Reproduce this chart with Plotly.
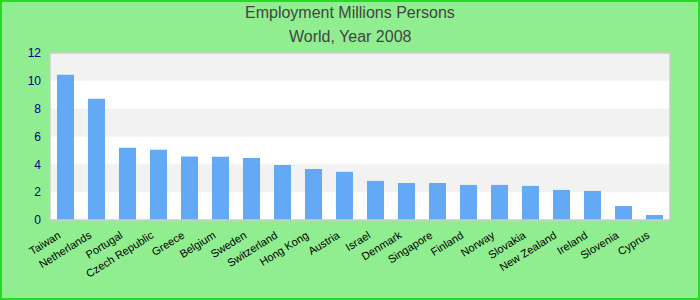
import plotly.graph_objects as go

countries = ["Taiwan", "Netherlands", "Portugal", "Czech Republic", "Greece", "Belgium",
             "Sweden", "Switzerland", "Hong Kong", "Austria", "Israel", "Denmark",
             "Singapore", "Finland", "Norway", "Slovakia", "New Zealand", "Ireland",
             "Slovenia", "Cyprus"]
employment = [10.44, 8.71, 5.2, 5.04, 4.56, 4.55, 4.46, 3.96, 3.67, 3.46, 2.81, 2.66,
              2.66, 2.52, 2.52, 2.45, 2.16, 2.09, 1.0, 0.36]
y_ticks = [0, 2, 4, 6, 8, 10, 12]
band_edges = [(10, 12), (6, 8), (2, 4)]

W, H = 700, 300
ML, MR, MT, MB = 50, 30, 53, 80
pw, ph = W - ML - MR, H - MT - MB

fig = go.Figure()
fig.add_trace(go.Bar(x=countries, y=employment, marker=dict(color="#63a9f5", line=dict(width=0)),
                     hoverinfo="x+y"))

shapes = []
for lo, hi in band_edges:
    shapes.append(dict(type="rect", xref="paper", yref="y", x0=0, x1=1, y0=lo, y1=hi,
                       fillcolor="#f2f2f2", line=dict(width=0), layer="below"))
shapes.append(dict(type="rect", xref="paper", yref="paper", x0=0, x1=1, y0=0, y1=1,
                   line=dict(color="#cccccc", width=1.5), layer="above"))
shapes.append(dict(type="rect", xref="paper", yref="paper",
                   x0=-(ML - 1) / pw, x1=1 + (MR - 1) / pw,
                   y0=-(MB - 1) / ph, y1=1 + (MT - 1) / ph,
                   line=dict(color="#22dd22", width=2), layer="above"))

title_font = dict(family="Liberation Sans, Arial", size=16, color="#444444")
annotations = [
    dict(text="Employment Millions Persons", xref="paper", yref="paper", x=0.5 - 10 / pw,
         y=1 + (MT - 13) / ph, xanchor="center", yanchor="middle", showarrow=False, font=title_font),
    dict(text="World, Year 2008", xref="paper", yref="paper", x=0.5 - 10 / pw,
         y=1 + (MT - 36) / ph, xanchor="center", yanchor="middle", showarrow=False, font=title_font),
]

fig.update_layout(
    width=W, height=H,
    margin=dict(l=ML, r=MR, t=MT, b=MB),
    paper_bgcolor="#90ee90",
    plot_bgcolor="#ffffff",
    bargap=0.45,
    showlegend=False,
    shapes=shapes,
    annotations=annotations,
    xaxis=dict(tickangle=-32, tickfont=dict(family="Liberation Sans, Arial", size=11, color="#000000"),
               showgrid=False, showline=False, ticks="", automargin=False,
               ticklabelstandoff=6, ticklabelshift=-7),
    yaxis=dict(range=[0, 12], tickvals=y_ticks, showgrid=False, zeroline=False,
               tickfont=dict(family="Liberation Sans, Arial", size=12, color="#00008b"),
               ticklabelstandoff=8, automargin=False),
)

fig.write_html("out.html")
